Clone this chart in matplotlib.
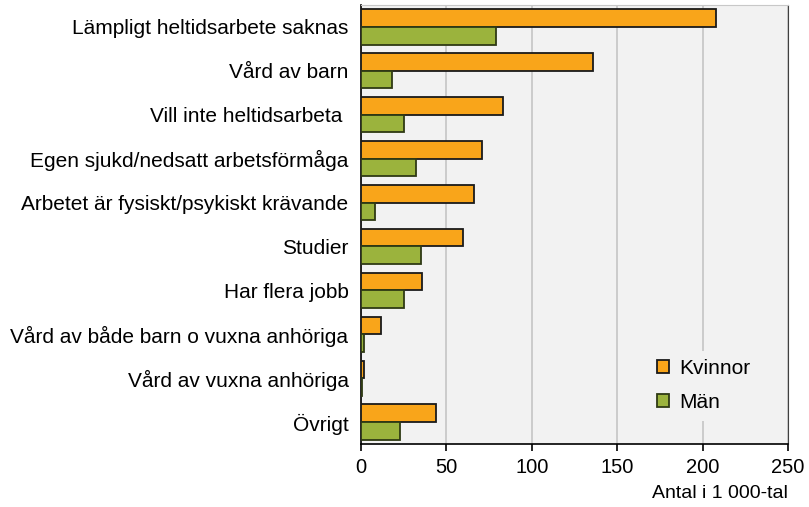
import matplotlib
matplotlib.use('Agg')
import matplotlib.pyplot as plt
import numpy as np

plt.rcParams['font.family'] = ['Liberation Sans', 'DejaVu Sans']

# data (thousands)
categories = ['Lämpligt heltidsarbete saknas', 'Vård av barn', 'Vill inte heltidsarbeta ',
              'Egen sjukd/nedsatt arbetsförmåga', 'Arbetet är fysiskt/psykiskt krävande',
              'Studier', 'Har flera jobb', 'Vård av både barn o vuxna anhöriga',
              'Vård av vuxna anhöriga', 'Övrigt']
kvinnor = [208, 136, 83, 71, 66, 60, 36, 12, 2, 44]
man = [79, 18, 25, 32, 8, 35, 25, 1.5, 0.3, 23]
xticks = [0, 50, 100, 150, 200, 250]

orange = '#F9A51A'
green = '#9BB33D'

fig = plt.figure(figsize=(8.09, 5.07), dpi=100)
ax = fig.add_axes([361/809, 1 - 444/507, 427/809, 439/507])
ax.set_facecolor('#F2F2F2')

y = np.arange(len(categories))
h = 0.4
ax.barh(y - h/2, kvinnor, height=h, color=orange, edgecolor='#1a1a1a', linewidth=1.3, label='Kvinnor', zorder=3)
ax.barh(y + h/2, man, height=h, color=green, edgecolor='#2f3a14', linewidth=1.3, label='Män', zorder=3)

ax.set_ylim(len(categories) - 0.5, -0.5)
ax.set_xlim(0, 250)
ax.set_yticks(y)
ax.set_yticklabels(categories, fontsize=15)
ax.set_xticks(xticks)
ax.set_xticklabels([str(t) for t in xticks], fontsize=14.5)
ax.tick_params(axis='y', length=0, pad=9)
ax.tick_params(axis='x', length=5, width=1.2, direction='out', pad=5)

ax.xaxis.grid(True, color='#C8C8C8', linewidth=1.3, zorder=0)
ax.set_axisbelow(True)
for side in ['left', 'bottom']:
    ax.spines[side].set_color('#000000')
    ax.spines[side].set_linewidth(1.2)
ax.spines['right'].set_color('#404040')
ax.spines['top'].set_color('#C8C8C8')

ax.set_xlabel('Antal i 1 000-tal', fontsize=14, loc='right', labelpad=6)

leg = ax.legend(loc='upper left', bbox_to_anchor=(0.674, 0.212), fontsize=15, frameon=True,
                facecolor='#F2F2F2', edgecolor='none', framealpha=1, handlelength=0.58,
                handleheight=0.58, handletextpad=0.5, labelspacing=0.72, borderpad=0.4,
                borderaxespad=0)

fig.savefig('out.png', dpi=100)
